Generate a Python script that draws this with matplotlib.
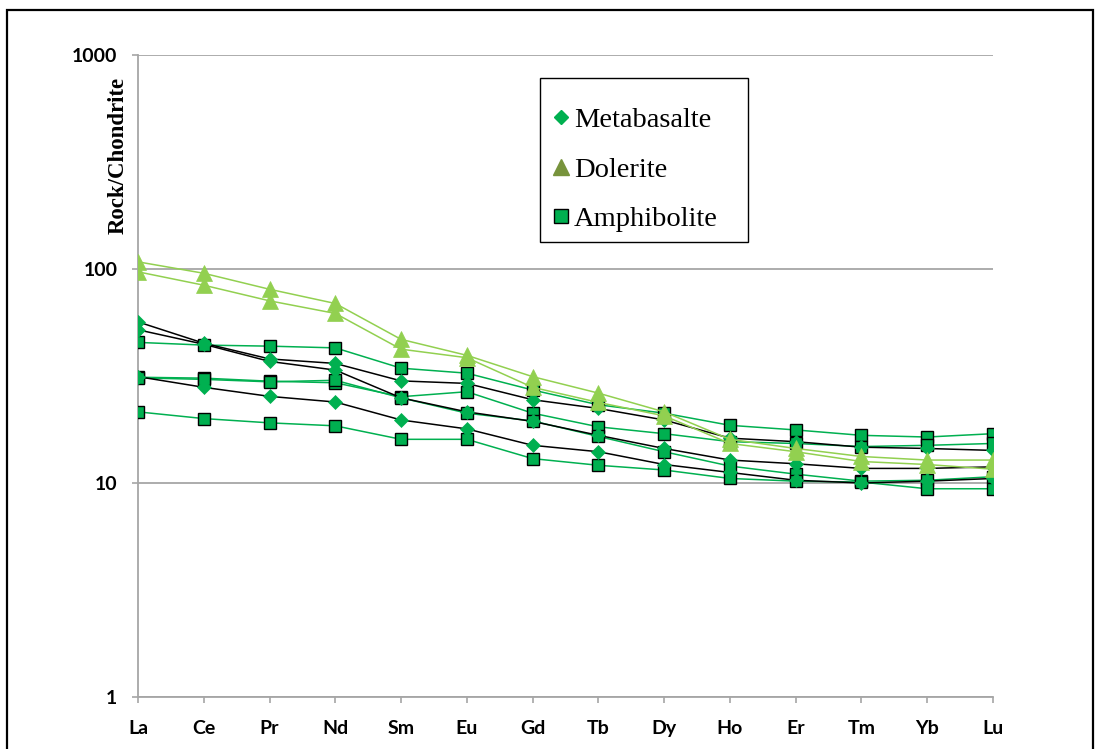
import matplotlib
matplotlib.use("Agg")
import matplotlib.pyplot as plt
from matplotlib.lines import Line2D
from matplotlib.patches import Rectangle
from matplotlib.ticker import FixedLocator, FixedFormatter, NullLocator

elements = ["La", "Ce", "Pr", "Nd", "Sm", "Eu", "Gd", "Tb", "Dy", "Ho", "Er", "Tm", "Yb", "Lu"]

# Metabasalte (diamonds, black lines)
meta_1 = [56.6, 45.0, 38.0, 36.2, 30.0, 29.2, 24.5, 22.3, 19.7, 16.2, 15.6, 14.7, 14.5, 14.2]
meta_2 = [52.0, 44.5, 37.0, 33.7, 25.0, 21.5, 19.4, 16.7, 14.5, 12.8, 12.3, 11.7, 11.7, 11.9]
meta_3 = [31.4, 28.0, 25.4, 23.9, 19.7, 17.9, 15.0, 14.0, 12.2, 11.2, 10.3, 10.0, 10.2, 10.5]

# Dolerite (triangles, light green lines)
dol_1 = [108.0, 95.5, 80.4, 69.0, 46.9, 39.5, 31.4, 26.3, 21.5, 16.0, 14.5, 13.3, 12.8, 12.8]
dol_2 = [97.0, 84.0, 71.0, 62.0, 42.2, 38.5, 28.0, 23.8, 20.6, 15.3, 14.0, 12.6, 12.2, 11.6]

# Amphibolite (squares, green lines)
amph_1 = [45.4, 44.1, 43.6, 42.8, 34.4, 32.6, 27.2, 23.2, 21.2, 18.6, 17.7, 16.7, 16.4, 17.0]
amph_2 = [31.2, 30.9, 29.9, 29.4, 25.3, 26.7, 21.2, 18.3, 17.0, 15.6, 15.3, 14.8, 15.0, 15.3]
amph_3 = [31.0, 30.5, 29.7, 30.2, 25.0, 21.2, 19.5, 16.5, 14.0, 12.0, 11.0, 10.2, 10.3, 10.7]
amph_4 = [21.5, 20.0, 19.1, 18.5, 16.0, 16.0, 13.0, 12.1, 11.5, 10.5, 10.2, 10.1, 9.4, 9.4]

y_ticks = [1, 10, 100, 1000]
y_tick_labels = ["1", "10", "100", "1000"]

GREEN = "#00B050"
LIGHT = "#92D050"
OLIVE = "#77933C"
GRID = "#A6A6A6"

fig = plt.figure(figsize=(10.96, 7.49), dpi=100)
ax = fig.add_axes([138/1096, 1-697/749, (993-138)/1096, (697-55)/749])

x = list(range(len(elements)))

for s in [amph_1, amph_2, amph_3, amph_4]:
    ax.plot(x, s, color=GREEN, lw=1.1, marker="s", ms=9, mfc=GREEN, mec="black", mew=1.0, zorder=3)
for s in [meta_1, meta_2, meta_3]:
    ax.plot(x, s, color="black", lw=1.1, marker="D", ms=7, mfc=GREEN, mec=GREEN, mew=0.5, zorder=3)
for s in [dol_1, dol_2]:
    ax.plot(x, s, color=LIGHT, lw=1.1, marker="^", ms=11, mfc=LIGHT, mec=LIGHT, mew=0.5, zorder=3)

ax.set_yscale("log")
ax.set_ylim(1, 1000)
ax.set_xlim(0, len(elements) - 1)
ax.yaxis.set_major_locator(FixedLocator(y_ticks))
ax.yaxis.set_major_formatter(FixedFormatter(y_tick_labels))
ax.yaxis.set_minor_locator(NullLocator())
ax.set_xticks(x)
ax.set_xticklabels(elements)

ax.grid(axis="y", color=GRID, lw=1.3)
ax.set_axisbelow(True)
for side in ["top", "right"]:
    ax.spines[side].set_visible(False)
for side in ["left", "bottom"]:
    ax.spines[side].set_color(GRID)
    ax.spines[side].set_linewidth(1.3)
    ax.spines[side].set_clip_on(False)

ax.tick_params(axis="both", colors=GRID, length=4.3, width=1.2, direction="out")
ax.tick_params(axis="y", pad=10.5)
ax.tick_params(axis="x", pad=12)
for lab in ax.get_xticklabels() + ax.get_yticklabels():
    lab.set_color("black")
    lab.set_fontfamily("Lato")
    lab.set_fontweight("bold")
    lab.set_fontsize(14)

fig.text(118/1096, 1-155/749, "Rock/Chondrite", rotation=90, ha="center", va="center",
         fontfamily="Liberation Serif", fontweight="bold", fontsize=16.5)

handles = [
    Line2D([], [], ls="none", marker="D", ms=7.5, mfc=GREEN, mec=GREEN),
    Line2D([], [], ls="none", marker="^", ms=12, mfc=OLIVE, mec=OLIVE),
    Line2D([], [], ls="none", marker="s", ms=9.5, mfc=GREEN, mec="black", mew=1.0),
]
x0 = (540-138)/855
y1 = (697-88)/642
w = (748-540)/855
leg = ax.legend(handles, ["Metabasalte", "Dolerite", "Amphibolite"],
                loc="upper left", bbox_to_anchor=(x0, y1 - 0.3, w, 0.3), mode="expand",
                prop={"family": "Liberation Serif", "size": 20.5},
                frameon=False,
                borderpad=0.66, labelspacing=0.84, handlelength=0.15, handletextpad=0.38,
                borderaxespad=0, markerscale=1.0)
leg.set_zorder(6)

# legend frame (axes-fraction box behind the legend entries)
ax.add_patch(Rectangle((x0, (697-242)/642), w, (242-78)/642,
                       transform=ax.transAxes, fill=True, fc="white",
                       ec="black", lw=1.0, zorder=5, clip_on=False))

# outer chart border
fig.patches.append(Rectangle((7/1096, -0.02), (1093-7)/1096, 1.02 - 10/749,
                             transform=fig.transFigure, fill=False, ec="black", lw=1.6))

fig.savefig("out.png", dpi=100)
